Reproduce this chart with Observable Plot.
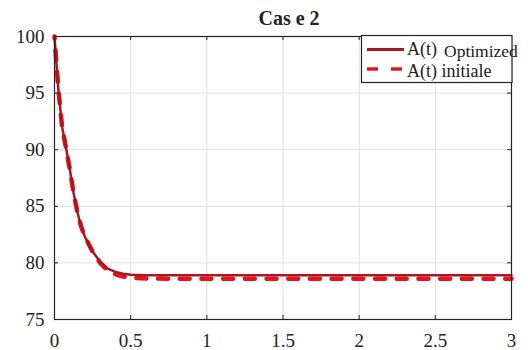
<!DOCTYPE html>
<html>
<head>
<meta charset="utf-8">
<script src="https://cdn.jsdelivr.net/npm/d3@7"></script>
<script src="https://cdn.jsdelivr.net/npm/@observablehq/plot@0.6"></script>
<style>
  body { margin: 0; background: #fff; }
  #wrap { position: relative; width: 528px; height: 350px; overflow: hidden; background: #fff; }
  #wrap > svg { position: absolute; left: 0; top: 0; }
  #wrap text { font-family: 'Liberation Serif' !important; }
  #overlay { position: absolute; left: 0; top: 0; pointer-events: none; }
</style>
</head>
<body>
<div id="wrap"></div>
<script>
// ---- data ----
const title = "Cas e 2";
const seriesNames = ["A(t)", "Optimized", "A(t) initiale"];
const tOpt  = [0, 0.025, 0.05, 0.075, 0.1, 0.125, 0.15, 0.175, 0.2, 0.25, 0.3, 0.35, 0.4, 0.45, 0.5, 0.6, 0.8, 1.0, 1.5, 2.0, 2.5, 3.0];
const aOpt  = [100, 95.4, 92.0, 90.2, 88.3, 86.2, 84.5, 83.2, 82.3, 81.0, 80.1, 79.5, 79.2, 79.05, 78.95, 78.9, 78.9, 78.9, 78.9, 78.9, 78.9, 78.9];
const tInit = [0, 0.025, 0.05, 0.075, 0.1, 0.125, 0.15, 0.175, 0.2, 0.25, 0.3, 0.35, 0.4, 0.45, 0.5, 0.6, 0.8, 1.0, 1.5, 2.0, 2.5, 3.0];
const aInit = [100, 95.4, 92.0, 90.2, 88.3, 86.2, 84.5, 83.2, 82.3, 81.0, 80.0, 79.3, 79.0, 78.8, 78.7, 78.62, 78.6, 78.6, 78.6, 78.6, 78.6, 78.6];
const xTicks = [0, 0.5, 1, 1.5, 2, 2.5, 3];
const yTicks = [75, 80, 85, 90, 95, 100];
const xLabels = ["0", "0.5", "1", "1.5", "2", "2.5", "3"];
const yLabels = ["75", "80", "85", "90", "95", "100"];

const optData  = tOpt.map((t, i) => ({t, a: aOpt[i]}));
const initData = tInit.map((t, i) => ({t, a: aInit[i]}));

const W = 528, H = 350;
const mL = 54, mR = 17, mT = 36, mB = 31;
const innerH = H - mT - mB, innerW = W - mL - mR;
const solidColor = "#a8161e";
const dashColor = "#e5141c";
const serif = "Liberation Serif";

const chart = Plot.plot({
  width: W, height: H,
  marginLeft: mL, marginRight: mR, marginTop: mT, marginBottom: mB,
  style: {fontFamily: serif, fontSize: "19px", color: "#222", background: "transparent"},
  x: {domain: [0, 3], ticks: xTicks, label: null},
  y: {domain: [75, 100], ticks: yTicks, label: null},
  marks: [
    Plot.gridX(xTicks, {stroke: "#dedede", strokeOpacity: 1}),
    Plot.gridY(yTicks, {stroke: "#dedede", strokeOpacity: 1}),
    Plot.line(initData, {x: "t", y: "a", stroke: dashColor, strokeWidth: 4.5, strokeDasharray: "10,11.7", strokeDashoffset: 8}),
    Plot.line(optData, {x: "t", y: "a", stroke: solidColor, strokeWidth: 2.5}),
    Plot.tickX(xTicks, {x: d => d, insetTop: innerH - 4, stroke: "#222"}),
    Plot.tickX(xTicks, {x: d => d, insetBottom: innerH - 4, stroke: "#222"}),
    Plot.tickY(yTicks, {y: d => d, insetRight: innerW - 4, stroke: "#222"}),
    Plot.tickY(yTicks, {y: d => d, insetLeft: innerW - 4, stroke: "#222"}),
    Plot.frame({stroke: "#222", strokeWidth: 1.2}),
    Plot.axisX(xTicks, {anchor: "bottom", label: null, tickSize: 0, tickPadding: 14, fontSize: 19, fontFamily: serif, tickFormat: d => xLabels[xTicks.indexOf(d)]}),
    Plot.axisY(yTicks, {anchor: "left", label: null, tickSize: 0, tickPadding: 10, fontSize: 19, fontFamily: serif, tickFormat: d => yLabels[yTicks.indexOf(d)]})
  ]
});
const wrap = document.getElementById("wrap");
wrap.appendChild(chart);

// title and legend overlay
const ns = "http://www.w3.org/2000/svg";
const ov = document.createElementNS(ns, "svg");
ov.setAttribute("id", "overlay");
ov.setAttribute("width", W);
ov.setAttribute("height", H);
ov.setAttribute("font-family", serif);
function el(tag, attrs, text) {
  const e = document.createElementNS(ns, tag);
  for (const k in attrs) e.setAttribute(k, attrs[k]);
  if (text != null) e.textContent = text;
  ov.appendChild(e);
  return e;
}
el("text", {x: 289, y: 25, "text-anchor": "middle", "font-weight": "bold", "font-size": 20, fill: "#222", "font-family": serif}, title);
el("rect", {x: 361.5, y: 35.5, width: 150.5, height: 47, fill: "#fff", stroke: "#222", "stroke-width": 1.2});
el("line", {x1: 367, x2: 404, y1: 49.5, y2: 49.5, stroke: solidColor, "stroke-width": 3});
el("line", {x1: 367, x2: 404, y1: 69, y2: 69, stroke: dashColor, "stroke-width": 3.5, "stroke-dasharray": "11,13"});
const t1 = el("text", {x: 407, y: 55, "font-size": 18, fill: "#222", "font-family": serif});
const s1 = document.createElementNS(ns, "tspan"); s1.textContent = seriesNames[0]; t1.appendChild(s1);
const s2 = document.createElementNS(ns, "tspan"); s2.textContent = seriesNames[1];
s2.setAttribute("x", 444); s2.setAttribute("dy", 2); s2.setAttribute("font-size", 17.5); t1.appendChild(s2);
el("text", {x: 407, y: 76.5, "font-size": 18, fill: "#222", "font-family": serif}, seriesNames[2]);
wrap.appendChild(ov);
</script>
</body>
</html>
